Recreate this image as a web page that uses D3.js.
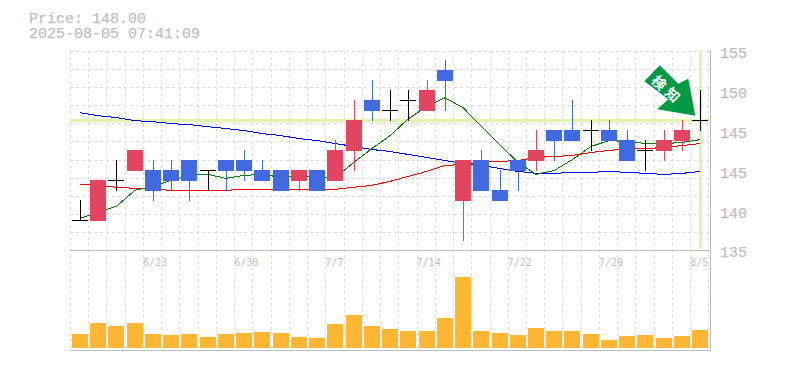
<!DOCTYPE html>
<html><head><meta charset="utf-8">
<script src="https://cdn.jsdelivr.net/npm/d3@7/dist/d3.min.js"></script>
<style>html,body{margin:0;padding:0;background:#fff}svg{display:block}</style>
</head><body><div id="c"></div>
<script>
const priceLabel = "Price: 148.00";
const timeLabel = "2025-08-05 07:41:09";
const arrowLabel = "検知";
const dates = ["6/17","6/18","6/19","6/20","6/23","6/24","6/25","6/26","6/27","6/30","7/1","7/2","7/3","7/4","7/7","7/8","7/9","7/10","7/11","7/14","7/15","7/16","7/17","7/18","7/22","7/23","7/24","7/25","7/28","7/29","7/30","7/31","8/1","8/4","8/5"];
const dateTicks = ["6/23","6/30","7/7","7/14","7/22","7/29","8/5"];
const open  = [138,138,142,143,143,143,144,143,144,144,143,143,142,143,142,145,150,149,150,149,153,140,144,141,144,144,147,147,147,147,146,145,145,146,148];
const high  = [140,142,144,145,144,144,144,143,144,145,144,143,143,143,146,150,152,151,151,152,154,144,145,143,144,147,147,150,148,148,147,146,147,148,151];
const low   = [138,138,141,143,140,141,140,141,141,142,142,141,141,141,142,143,148,148,148,149,149,136,141,140,141,143,144,146,145,146,144,143,144,145,147];
const close = [138,142,142,145,141,142,142,143,143,143,142,141,143,141,145,148,149,149,150,151,152,144,141,140,143,145,146,146,147,146,144,145,146,147,148];
const maShort = [138.2,138.8,139.4,141.0,141.4,142.0,142.5,142.6,142.2,142.5,142.6,142.3,142.5,142.2,142.3,143.8,145.2,146.5,148.2,149.4,150.3,149.3,147.4,145.6,143.8,142.6,143.0,144.1,145.4,146.0,145.9,145.7,145.7,145.8,146.1];
const maMid = [141.6,141.5,141.3,141.2,141.1,141.0,141.0,141.0,141.0,141.1,141.1,141.1,141.1,141.1,141.1,141.3,141.5,141.9,142.4,142.9,143.5,143.6,143.8,143.9,144.0,144.3,144.4,144.5,144.8,145.0,145.2,145.2,145.3,145.5,145.7];
const maLong = [148.8,148.5,148.3,148.0,147.9,147.7,147.6,147.4,147.2,147.0,146.7,146.5,146.2,146.0,145.7,145.4,145.1,144.9,144.6,144.3,144.0,143.7,143.5,143.2,142.9,142.7,142.7,142.8,142.8,142.9,142.8,142.7,142.6,142.7,142.9];
const volume = [14,25,22,25,14,13,14,11,14,15,16,15,11,10,24,33,22,19,17,17,30,71,17,15,13,20,17,17,14,8,12,13,10,12,18];
const priceTicks = [155,151,147,143,139,135];
const priceTickLabels = ["155","150","145","145","140","135"];
const currentPrice = 148;

const W = 785, H = 370;
const svg = d3.select("#c").append("svg").attr("width",W).attr("height",H);
const x = d3.scaleBand().domain(dates).range([71,709.4]);
const y = d3.scaleLinear().domain([135,155]).range([250,51]);
const yv = d3.scaleLinear().domain([0,98]).range([348,250]);
const left = d => Math.round(x(d)+1);
const py = v => Math.floor(y(v));
const GRID="#dcdcdc", AXIS="#c0c0c0", BAND="#e2f4ab", TXT="#c0c0c0";
const UP="#e34460", DOWN="#4169e1";
const mono='"Liberation Mono",monospace';

// grid
const g = svg.append("g").attr("shape-rendering","crispEdges");
const hGrid = d3.range(0,11).map(k => 135 + (k+1)*20/11);
g.selectAll(".h").data(hGrid).join("line")
  .attr("x1",70).attr("x2",710).attr("y1",d=>Math.round(y(d))+.5).attr("y2",d=>Math.round(y(d))+.5)
  .attr("stroke",GRID).attr("stroke-dasharray","3 3");
g.selectAll(".v").data(dates.concat(["end"])).join("line")
  .attr("x1",d=>(d==="end"?708:left(d)-2)+.5).attr("x2",d=>(d==="end"?708:left(d)-2)+.5)
  .attr("y1",51).attr("y2",350)
  .attr("stroke",GRID).attr("stroke-dasharray","3 3");

// current price guides
const last = dates[dates.length-1];
g.append("rect").attr("x",70).attr("width",640).attr("y",py(currentPrice)-1).attr("height",3).attr("fill",BAND);
g.append("rect").attr("x",left(last)+7).attr("width",3).attr("y",50).attr("height",199).attr("fill",BAND);

// panel frame
[[70,250.5,710,250.5],[70,350.5,711,350.5],[710.5,50,710.5,351]].forEach(a=>
  g.append("line").attr("x1",a[0]).attr("y1",a[1]).attr("x2",a[2]).attr("y2",a[3]).attr("stroke",AXIS));

// moving averages
const line = d3.line().x((d,i)=>x(dates[i])+x.bandwidth()/2).y(d=>y(d));
[[maLong,"#0000ff"],[maMid,"#ff0000"],[maShort,"#008000"]].forEach(s=>
  svg.append("path").attr("d",line(s[0])).attr("fill","none").attr("stroke",s[1]).attr("stroke-width",1).attr("shape-rendering","crispEdges"));

// candles
const col = i => close[i]>open[i]?UP:close[i]<open[i]?DOWN:"#000";
const c = svg.append("g").attr("shape-rendering","crispEdges");
dates.forEach((d,i)=>{
  c.append("rect").attr("x",left(d)+8).attr("width",1).attr("y",py(high[i])).attr("height",py(low[i])-py(high[i])+1).attr("fill",col(i));
  const t=Math.max(open[i],close[i]), b=Math.min(open[i],close[i]);
  c.append("rect").attr("x",left(d)).attr("width",16).attr("y",py(t)).attr("height",py(b)-py(t)+1).attr("fill",col(i));
});
// volume
c.selectAll(".vol").data(volume).join("rect")
  .attr("x",(d,i)=>left(dates[i])).attr("width",16)
  .attr("y",d=>yv(d)).attr("height",d=>yv(0)-yv(d)).attr("fill","#ffb733");

// axes
const ax = svg.append("g").attr("transform","translate(709,2)")
  .call(d3.axisRight(y).tickValues(priceTicks).tickSize(0).tickPadding(11).tickFormat((d,i)=>priceTickLabels[i]));
ax.select(".domain").remove();
ax.selectAll("text").attr("fill",TXT).style("font-family",mono).style("font-size","15px").style("stroke",TXT).style("stroke-width",".25");

const bx = svg.append("g").attr("transform","translate(0,254)")
  .call(d3.axisBottom(x).tickValues(dateTicks).tickSize(0).tickPadding(0));
bx.select(".domain").remove();
bx.selectAll("text").attr("text-anchor","start").attr("dy","0").attr("x",-x.step()/2-1).attr("y",12)
  .attr("fill",TXT).style("font-family",'"DejaVu Sans Mono",monospace').style("font-size","10px");

// header
[[priceLabel,23],[timeLabel,38]].forEach(a=>
  svg.append("text").attr("x",29).attr("y",a[1]).text(a[0]).attr("fill",TXT)
    .style("font-family",mono).style("font-size","15px").style("stroke",TXT).style("stroke-width",".25"));

// signal arrow, placed from the last candle
const tipX = x(last)+x.bandwidth()/2-5, tipY = y(currentPrice)-5;
const arrow = [[-35.5,-50.5],[-17,-32],[-7,-37],[0,0],[-38,-6.5],[-27,-16.5],[-51,-34.5]];
const ag = svg.append("g").attr("transform",`translate(${tipX},${tipY})`);
ag.append("polygon").attr("points",arrow.map(p=>p.join(",")).join(" ")).attr("fill","#009944");
arrowLabel.split("").forEach((ch,i)=>
  ag.append("text").text(ch).attr("text-anchor","middle").attr("dominant-baseline","central")
    .attr("transform",`translate(${-35.5+i*13.5},${-33.5+i*12}) rotate(45)`)
    .attr("fill","#fff").style("font-family",'"Noto Sans CJK JP"').style("font-weight","700").style("font-size","14px"));
</script></body></html>
